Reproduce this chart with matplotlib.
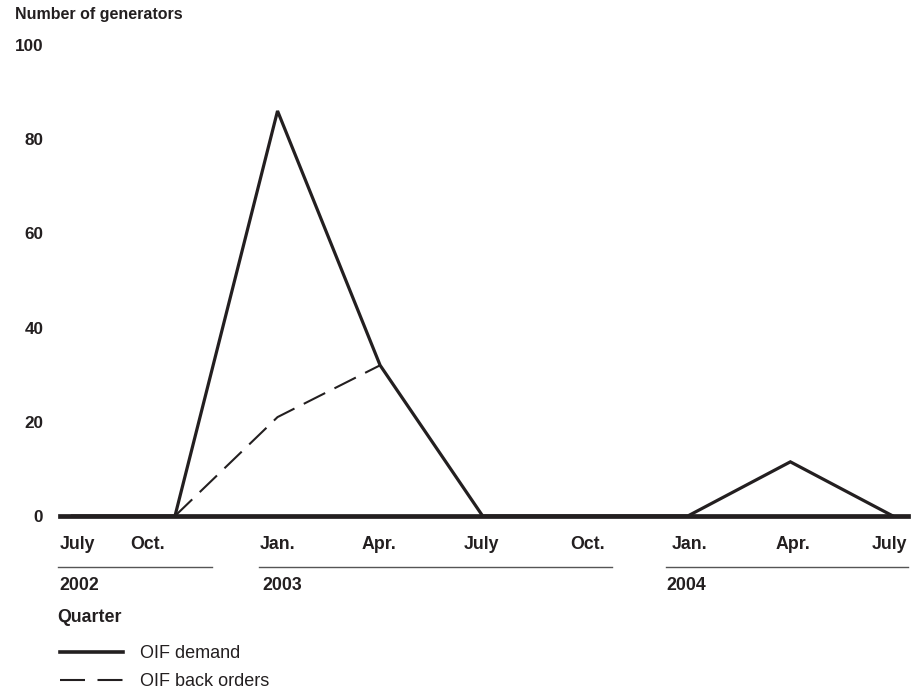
import matplotlib
matplotlib.use("Agg")
import matplotlib.pyplot as plt
from matplotlib.lines import Line2D
import numpy as np

# ---- data ----
quarters = ["July", "Oct.", "Jan.", "Apr.", "July", "Oct.", "Jan.", "Apr.", "July"]
years = ["2002", "2003", "2004"]
oif_demand = [0, 0, 86, 32, 0, 0, 0, 11.5, 0]
oif_back_orders = [np.nan, 0, 21, 32, np.nan, np.nan, np.nan, np.nan, np.nan]
y_ticks = [0, 20, 40, 60, 80, 100]

INK = "#231f20"
plt.rcParams["font.family"] = ["Liberation Sans", "DejaVu Sans"]

W, H = 922, 693
fig = plt.figure(figsize=(W / 100, H / 100), dpi=100)

def fx(px):
    return px / W

def fy(py):
    return 1 - py / H

ax = fig.add_axes([fx(60), fy(516), fx(908) - fx(60), fy(45) - fy(516)])
x = np.arange(len(quarters))
ax.set_xlim(-0.121, 8.147)
ax.set_ylim(0, 100)

ax.axhline(0, color=INK, lw=3.4, clip_on=False, zorder=3)
ax.plot(x, oif_demand, color=INK, lw=2.3, solid_joinstyle="miter", clip_on=False, zorder=4)
ax.plot(x, oif_back_orders, color=INK, lw=1.5, linestyle=(0, (11.5, 5)), clip_on=False, zorder=4)

for s in ax.spines.values():
    s.set_visible(False)

ax.set_yticks(y_ticks)
ax.set_yticklabels([str(v) for v in y_ticks], fontsize=12.3, fontweight="bold", color=INK)
ax.tick_params(axis="y", length=0, pad=12)

label_pos = x + np.array([0.045, -0.27, 0, -0.01, -0.015, 0.025, 0.02, 0.025, -0.03])
ax.set_xticks(label_pos)
ax.set_xticklabels(quarters, fontsize=12.8, fontweight="bold", color=INK)
ax.tick_params(axis="x", length=0, pad=14.5)

# year grouping lines and labels
for (x0, x1) in [(58, 212), (259, 612), (666, 908)]:
    fig.add_artist(Line2D([fx(x0), fx(x1)], [fy(567), fy(567)], color="#555555", lw=1.0))
for lab, px in zip(years, [59, 262, 666]):
    fig.text(fx(px), fy(585), lab, fontsize=12.8, fontweight="bold", color=INK,
             ha="left", va="center")

fig.text(fx(57), fy(617), "Quarter", fontsize=12.8, fontweight="bold", color=INK,
         ha="left", va="center")
fig.text(fx(15), fy(14), "Number of generators", fontsize=11.5, fontweight="bold",
         color=INK, ha="left", va="center")

handles = [Line2D([], [], color=INK, lw=2.6),
           Line2D([], [], color=INK, lw=1.5, linestyle=(0, (12, 6)))]
fig.legend(handles, ["OIF demand", "OIF back orders"], loc="upper left",
           bbox_to_anchor=(fx(60), fy(645)), frameon=False, fontsize=13,
           handlelength=3.5, handletextpad=0.95, labelspacing=0.6,
           borderpad=0, borderaxespad=0, labelcolor=INK)

fig.savefig("out.png", dpi=100, facecolor="white")
